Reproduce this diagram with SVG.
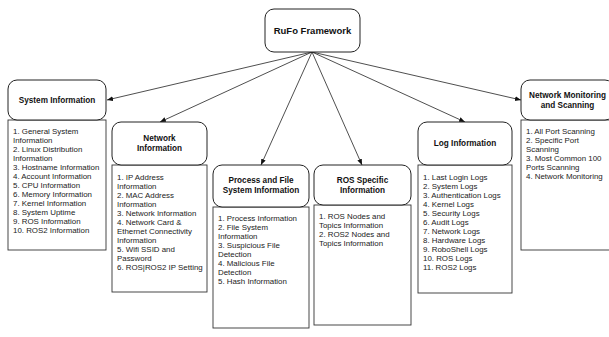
<svg xmlns="http://www.w3.org/2000/svg" width="609" height="337" viewBox="0 0 609 337">
<style>
.hdr{fill:#fff;stroke:#222;stroke-width:1}
.box{fill:#fff;stroke:#333;stroke-width:0.9}
.ht{font-family:"Liberation Sans",Arial,sans-serif;font-weight:bold;font-size:8.2px;fill:#111;text-anchor:middle}
.tt{font-family:"Liberation Sans",Arial,sans-serif;font-weight:bold;font-size:9.5px;fill:#111;text-anchor:middle}
.ct{font-family:"Liberation Sans",Arial,sans-serif;font-size:7.9px;fill:#222}
.con{stroke:#222;stroke-width:0.8;fill:none}
</style>
<defs>
<marker id="ah" viewBox="0 0 10 10" refX="10" refY="5" markerWidth="6" markerHeight="6" markerUnits="userSpaceOnUse" orient="auto">
<path d="M0,1 L10,5 L0,9 Z" fill="#111"/>
</marker>
</defs>
<rect width="609" height="337" fill="#fff"/>
<g id="connectors">
<line class="con" x1="312" y1="52" x2="107" y2="100" marker-end="url(#ah)"/>
<line class="con" x1="312" y1="52" x2="160" y2="122" marker-end="url(#ah)"/>
<line class="con" x1="312" y1="52" x2="261" y2="165" marker-end="url(#ah)"/>
<line class="con" x1="312" y1="52" x2="362" y2="165" marker-end="url(#ah)"/>
<line class="con" x1="312" y1="52" x2="465" y2="122" marker-end="url(#ah)"/>
<line class="con" x1="312" y1="52" x2="521" y2="100" marker-end="url(#ah)"/>
</g>
<g id="rufo">
<rect class="hdr" x="265" y="9" width="95" height="43" rx="9"/>
<text class="tt" x="312.5" y="34">RuFo Framework</text>
</g>
<g id="system-information">
<rect class="box" x="8" y="120" width="98" height="130"/>
<rect class="hdr" x="8" y="80" width="98" height="40" rx="9"/>
<text class="ht" x="57" y="103">System Information</text>
<text class="ct">
<tspan x="13" y="134">1. General System</tspan>
<tspan x="13" dy="9">Information</tspan>
<tspan x="13" dy="9">2. Linux Distribution</tspan>
<tspan x="13" dy="9">Information</tspan>
<tspan x="13" dy="9">3. Hostname Information</tspan>
<tspan x="13" dy="9">4. Account Information</tspan>
<tspan x="13" dy="9">5. CPU Information</tspan>
<tspan x="13" dy="9">6. Memory Information</tspan>
<tspan x="13" dy="9">7. Kernel Information</tspan>
<tspan x="13" dy="9">8. System Uptime</tspan>
<tspan x="13" dy="9">9. ROS Information</tspan>
<tspan x="13" dy="9">10. ROS2 Information</tspan>
</text>
</g>
<g id="network-information">
<rect class="box" x="112" y="165" width="95" height="127"/>
<rect class="hdr" x="112" y="122" width="95" height="43" rx="9"/>
<text class="ht"><tspan x="159.5" y="141">Network</tspan><tspan x="159.5" dy="10">Information</tspan></text>
<text class="ct">
<tspan x="117" y="180">1. IP Address</tspan>
<tspan x="117" dy="9">Information</tspan>
<tspan x="117" dy="9">2. MAC Address</tspan>
<tspan x="117" dy="9">Information</tspan>
<tspan x="117" dy="9">3. Network Information</tspan>
<tspan x="117" dy="9">4. Network Card &amp;</tspan>
<tspan x="117" dy="9">Ethernet Connectivity</tspan>
<tspan x="117" dy="9">Information</tspan>
<tspan x="117" dy="9">5. Wifi SSID and</tspan>
<tspan x="117" dy="9">Password</tspan>
<tspan x="117" dy="9">6. ROS|ROS2 IP Setting</tspan>
</text>
</g>
<g id="process-file-system">
<rect class="box" x="213" y="207" width="96" height="121"/>
<rect class="hdr" x="213" y="165" width="96" height="42" rx="9"/>
<text class="ht"><tspan x="261" y="183">Process and File</tspan><tspan x="261" dy="10">System Information</tspan></text>
<text class="ct">
<tspan x="218" y="221">1. Process Information</tspan>
<tspan x="218" dy="9">2. File System</tspan>
<tspan x="218" dy="9">Information</tspan>
<tspan x="218" dy="9">3. Suspicious File</tspan>
<tspan x="218" dy="9">Detection</tspan>
<tspan x="218" dy="9">4. Malicious File</tspan>
<tspan x="218" dy="9">Detection</tspan>
<tspan x="218" dy="9">5. Hash Information</tspan>
</text>
</g>
<g id="ros-specific">
<rect class="box" x="314" y="205" width="97" height="120"/>
<rect class="hdr" x="314" y="165" width="97" height="40" rx="9"/>
<text class="ht"><tspan x="362.5" y="183">ROS Specific</tspan><tspan x="362.5" dy="10">Information</tspan></text>
<text class="ct">
<tspan x="319" y="219">1. ROS Nodes and</tspan>
<tspan x="319" dy="9">Topics Information</tspan>
<tspan x="319" dy="9">2. ROS2 Nodes and</tspan>
<tspan x="319" dy="9">Topics Information</tspan>
</text>
</g>
<g id="log-information">
<rect class="box" x="418" y="165" width="94" height="128"/>
<rect class="hdr" x="418" y="122" width="94" height="43" rx="9"/>
<text class="ht" x="465" y="146">Log Information</text>
<text class="ct">
<tspan x="423" y="180">1. Last Login Logs</tspan>
<tspan x="423" dy="9">2. System Logs</tspan>
<tspan x="423" dy="9">3. Authentication Logs</tspan>
<tspan x="423" dy="9">4. Kernel Logs</tspan>
<tspan x="423" dy="9">5. Security Logs</tspan>
<tspan x="423" dy="9">6. Audit Logs</tspan>
<tspan x="423" dy="9">7. Network Logs</tspan>
<tspan x="423" dy="9">8. Hardware Logs</tspan>
<tspan x="423" dy="9">9. RoboShell Logs</tspan>
<tspan x="423" dy="9">10. ROS Logs</tspan>
<tspan x="423" dy="9">11. ROS2 Logs</tspan>
</text>
</g>
<g id="network-monitoring">
<rect class="box" x="521" y="120" width="93" height="130"/>
<rect class="hdr" x="521" y="80" width="93" height="40" rx="9"/>
<text class="ht"><tspan x="567.5" y="98">Network Monitoring</tspan><tspan x="567.5" dy="10">and Scanning</tspan></text>
<text class="ct">
<tspan x="526" y="134">1. All Port Scanning</tspan>
<tspan x="526" dy="9">2. Specific Port</tspan>
<tspan x="526" dy="9">Scanning</tspan>
<tspan x="526" dy="9">3. Most Common 100</tspan>
<tspan x="526" dy="9">Ports Scanning</tspan>
<tspan x="526" dy="9">4. Network Monitoring</tspan>
</text>
</g>
</svg>
